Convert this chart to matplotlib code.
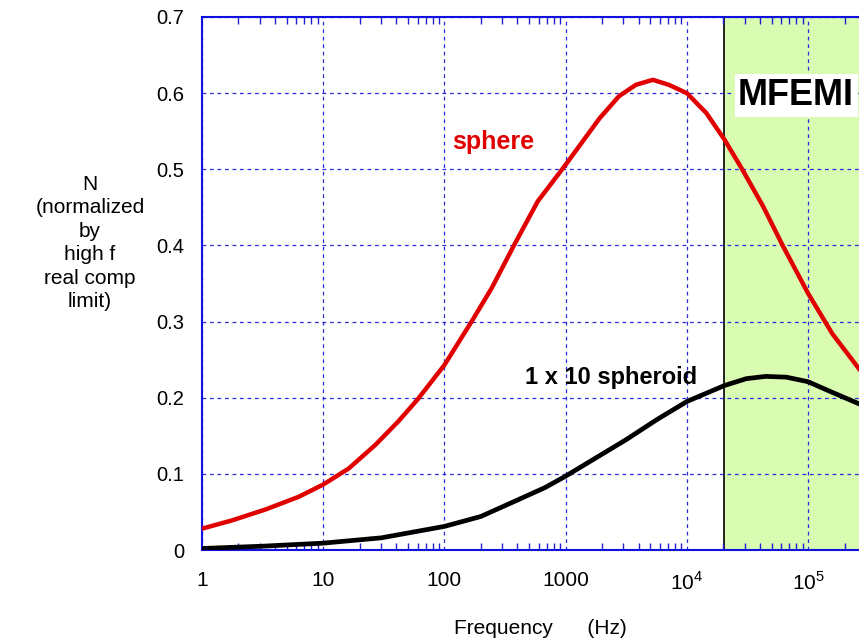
import matplotlib
matplotlib.use("Agg")
import matplotlib.pyplot as plt
import numpy as np
from matplotlib.ticker import FixedLocator, FixedFormatter, LogLocator, NullFormatter

plt.rcParams['font.family'] = ['Liberation Sans', 'DejaVu Sans']
plt.rcParams['mathtext.fontset'] = 'custom'
plt.rcParams['mathtext.rm'] = 'Liberation Sans'

# values (frequency given as log10 of Hz)
sphere_logf = [0.0, 0.25, 0.52, 0.80, 1.0, 1.21, 1.43, 1.62, 1.78, 2.0, 2.22,
               2.39, 2.57, 2.77, 3.0, 3.11, 3.28, 3.44, 3.58, 3.72, 3.85,
               4.0, 4.16, 4.31, 4.46, 4.63, 4.79, 5.0, 5.20, 5.42]
sphere_n = [0.028, 0.039, 0.053, 0.070, 0.086, 0.107, 0.138, 0.169, 0.198,
            0.243, 0.299, 0.344, 0.399, 0.458, 0.506, 0.530, 0.567, 0.596,
            0.611, 0.6175, 0.611, 0.600, 0.574, 0.539, 0.499, 0.451, 0.400,
            0.337, 0.284, 0.238]

spheroid_logf = [0.0, 0.5, 1.0, 1.48, 2.0, 2.30, 2.58, 2.83, 3.0, 3.26, 3.5,
                 3.75, 4.0, 4.31, 4.49, 4.65, 4.82, 5.0, 5.20, 5.42]
spheroid_n = [0.002, 0.005, 0.009, 0.016, 0.031, 0.044, 0.064, 0.082, 0.097,
              0.122, 0.145, 0.171, 0.195, 0.216, 0.225, 0.228, 0.227, 0.221,
              0.207, 0.192]

xticks = [1, 10, 100, 1000, 1e4, 1e5]
xtick_labels = ['1', '10', '100', '1000', '$10^4$', '$10^5$']
yticks = [0, 0.1, 0.2, 0.3, 0.4, 0.5, 0.6, 0.7]
mfemi_start = 2.03e4

sphere_f = 10 ** np.array(sphere_logf)
spheroid_f = 10 ** np.array(spheroid_logf)

fig = plt.figure(figsize=(8.59, 6.43), dpi=100)
ax = fig.add_axes([202 / 859, 93 / 643, 657 / 859, 533 / 643])
ax.set_xscale('log')
ax.set_xlim(1, 2.63e5)
ax.set_ylim(0, 0.7)

# MFEMI band
ax.axvspan(mfemi_start, 1e7, facecolor='#d9fcb2', edgecolor='none', zorder=0)
ax.axvline(mfemi_start, color='black', lw=1.2, zorder=1)

ax.grid(True, which='major', color='#2a2ae0', linestyle=(0, (3, 3)), lw=0.9)

ax.plot(sphere_f, sphere_n, color='#e00000', lw=3.2, zorder=3,
        solid_joinstyle='round')
ax.plot(spheroid_f, spheroid_n, color='black', lw=3.4, zorder=3,
        solid_joinstyle='round')

ax.xaxis.set_major_locator(FixedLocator(xticks))
ax.xaxis.set_major_formatter(FixedFormatter(xtick_labels))
ax.xaxis.set_minor_locator(LogLocator(base=10, subs=range(2, 10), numticks=20))
ax.xaxis.set_minor_formatter(NullFormatter())
ax.set_yticks(yticks)
ax.set_yticklabels(['0'] + ['%.1f' % v for v in yticks[1:]])

ax.tick_params(axis='x', which='both', direction='in', top=True, bottom=True,
               color='#2020d0', labelsize=15, pad=15)
ax.tick_params(axis='x', which='minor', length=5, width=1)
ax.tick_params(axis='x', which='major', length=0)
ax.tick_params(axis='y', which='both', length=0, labelsize=14.5, pad=13)

for side in ['left', 'top', 'bottom']:
    ax.spines[side].set_color('#1010e0')
    ax.spines[side].set_linewidth(1.5)
ax.spines['right'].set_visible(False)

ax.text(251, 0.536, 'sphere', color='#e00000', fontsize=18, fontweight='bold',
        ha='center', va='center', zorder=4)
ax.text(2384, 0.227, '1 x 10 spheroid', color='black', fontsize=17,
        fontweight='bold', ha='center', va='center', zorder=4)
ax.text(0.816, 0.597, 'MFEMI', transform=ax.get_yaxis_transform(),
        color='black', fontsize=26, fontweight='bold', ha='left', va='center',
        zorder=5, bbox=dict(facecolor='white', edgecolor='none', pad=2.5))

fig.text(90 / 859, 1 - 243 / 643,
         'N\n(normalized\nby\nhigh f\nreal comp\nlimit)',
         ha='center', va='center', fontsize=15, linespacing=1.3)
fig.text(540 / 859, 1 - 628 / 643, 'Frequency      (Hz)', ha='center',
         va='center', fontsize=15)

fig.savefig('out.png', dpi=100)
